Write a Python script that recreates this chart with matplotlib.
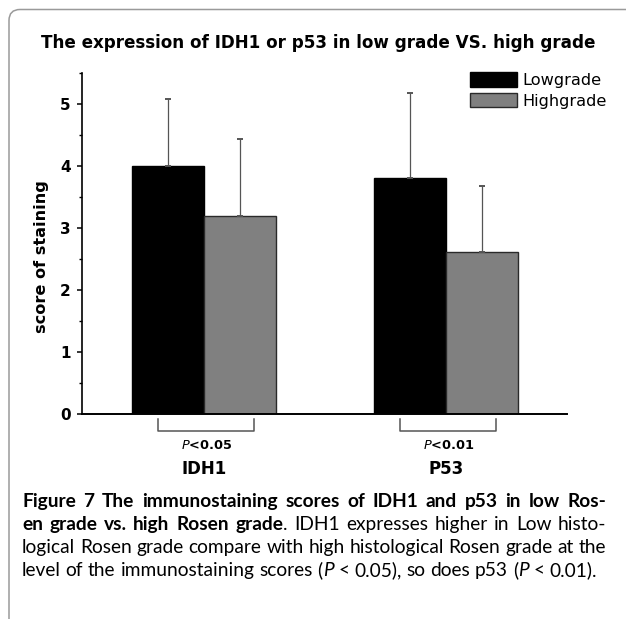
import matplotlib
matplotlib.use('Agg')
import matplotlib.pyplot as plt
from matplotlib.patches import FancyBboxPatch
from matplotlib.ticker import MultipleLocator
import numpy as np

plt.rcParams['mathtext.fontset'] = 'custom'
plt.rcParams['mathtext.it'] = 'DejaVu Sans:italic'
plt.rcParams['mathtext.rm'] = 'DejaVu Sans'

# ---------------- data ----------------
categories = ['IDH1', 'P53']
series_names = ['Lowgrade', 'Highgrade']
low_means = [4.00, 3.81]
high_means = [3.20, 2.61]
low_err = [1.08, 1.36]
high_err = [1.24, 1.07]
p_values = ['<0.05', '<0.01']
yticks = [0, 1, 2, 3, 4, 5]
title = 'The expression of IDH1 or p53 in low grade VS. high grade'
ylabel = 'score of staining'

W, H = 626, 619
fig = plt.figure(figsize=(W / 100, H / 100), dpi=100)

# background pixel-space axes for frame / caption
bg = fig.add_axes([0, 0, 1, 1], zorder=-5)
bg.set_xlim(0, W)
bg.set_ylim(H, 0)
bg.axis('off')
bg.add_patch(FancyBboxPatch((9, 9.5), 700, 700,
                            boxstyle='round,pad=0,rounding_size=11',
                            facecolor='white', edgecolor='#9a9a9a', linewidth=1.1))

# ---------------- main axes ----------------
ax_left, ax_right, ax_bot, ax_top = 82, 567, 414, 72.7
ax = fig.add_axes([ax_left / W, 1 - ax_bot / H, (ax_right - ax_left) / W, (ax_bot - ax_top) / H])
ax.patch.set_alpha(0)

x = np.arange(len(categories))
bw = 0.2975
ekw = dict(ecolor='#555555', elinewidth=0.9, capsize=1.9, capthick=1.4)
ax.bar(x - bw / 2, low_means, bw, color='black', edgecolor='black', linewidth=1,
       label=series_names[0], yerr=[np.zeros(len(x)), low_err], error_kw=ekw)
ax.bar(x + bw / 2, high_means, bw, color='#808080', edgecolor='#2a2a2a', linewidth=1,
       label=series_names[1], yerr=[np.zeros(len(x)), high_err], error_kw=ekw)

ax.set_xlim(-0.504, 1.5)
ax.set_ylim(0, 5.505)
for s in ['top', 'right']:
    ax.spines[s].set_visible(False)
ax.spines['left'].set_linewidth(1.2)
ax.spines['bottom'].set_linewidth(1.4)

ax.set_yticks(yticks)
ax.yaxis.set_minor_locator(MultipleLocator(0.5))
ax.tick_params(axis='y', which='major', direction='out', length=3.8, width=1.1, pad=4.5,
               labelsize=11)
ax.tick_params(axis='y', which='minor', direction='out', length=2.2, width=1.0)
for lab in ax.get_yticklabels():
    lab.set_fontweight('bold')
    lab.set_family('DejaVu Sans')

ax.set_xticks(x)
ax.set_xticklabels(categories, fontsize=12, fontweight='bold', family='DejaVu Sans')
ax.tick_params(axis='x', length=0, pad=33)

# significance brackets and p-values
tr = ax.get_xaxis_transform()
axh = ax_bot - ax_top
for xi, p in zip(x, p_values):
    xl, xr = xi - 0.19, xi + 0.205
    y1, y2 = -5 / axh, -17 / axh
    ax.plot([xl, xl, xr, xr], [y1, y2, y2, y1], color='#555555', lw=1.1,
            transform=tr, clip_on=False)
    ax.annotate(r'$\mathit{P}$' + p, xy=(xi + 0.012, 0), xycoords=tr,
                xytext=(0, -22.5), textcoords='offset points', ha='center', va='center',
                fontsize=9.3, fontweight='bold', family='DejaVu Sans')

leg = ax.legend(loc='upper left', bbox_to_anchor=(470 / W, 1 - 72 / H),
                bbox_transform=fig.transFigure, frameon=False, borderpad=0,
                borderaxespad=0, handlelength=47 / 16.1, handleheight=16.6 / 16.1,
                handletextpad=5.5 / 16.1, labelspacing=0.3,
                prop={'family': 'DejaVu Sans', 'size': 11.6})

fig.text(42 / W, 1 - 257 / H, ylabel, rotation=90, ha='center', va='center',
         fontsize=11.6, fontweight='bold', family='DejaVu Sans')

# title fitted to its measured width
renderer = fig.canvas.get_renderer()
t = fig.text(318.5 / W, 1 - 43 / H, title, ha='center', va='center',
             fontsize=10, fontweight='bold', family='DejaVu Sans')
w10 = t.get_window_extent(renderer).width
t.set_fontsize(10 * 557 / w10)

# ---------------- caption ----------------
cap_lines = [
    [('Figure 7 The immunostaining scores of IDH1 and p53 in low Ros-', 'bold', 'normal')],
    [('en grade vs. high Rosen grade', 'bold', 'normal'),
     ('. IDH1 expresses higher in Low histo-', 'normal', 'normal')],
    [('logical Rosen grade compare with high histological Rosen grade at the', 'normal', 'normal')],
    [('level of the immunostaining scores (', 'normal', 'normal'), ('P', 'normal', 'italic'),
     (' < 0.05), so does p53 (', 'normal', 'normal'), ('P', 'normal', 'italic'),
     (' < 0.01).', 'normal', 'normal')],
]
cap_left, cap_right = 22, 606
baselines = [507, 530, 553, 576]
cap_font = 'Lato'


def units_of(line):
    """split a line into words; each word is a list of (text, weight, style)."""
    words = [[]]
    for txt, wt, st in line:
        parts = txt.split(' ')
        for i, part in enumerate(parts):
            if i > 0:
                words.append([])
            if part:
                words[-1].append((part, wt, st))
    return [w for w in words if w]


def measure(txt, wt, st, fs):
    tt = bg.text(0, 0, txt, fontsize=fs, fontweight=wt, fontstyle=st, family=cap_font)
    w = tt.get_window_extent(renderer).width
    tt.remove()
    return w


base = 10.0
ratios = []
for li, line in enumerate(cap_lines[:-1]):
    words = units_of(line)
    wsum = sum(measure(p, wt, st, base) for wd in words for (p, wt, st) in wd)
    space = measure('a a', 'normal', 'normal', base) - measure('aa', 'normal', 'normal', base)
    nat = wsum + space * (len(words) - 1)
    ratios.append((cap_right - cap_left) / nat)
cap_fs = min(14.0, base * min(ratios))
space_w = measure('a a', 'normal', 'normal', cap_fs) - measure('aa', 'normal', 'normal', cap_fs)

for li, line in enumerate(cap_lines):
    words = units_of(line)
    widths = [[measure(p, wt, st, cap_fs) for (p, wt, st) in wd] for wd in words]
    total = sum(sum(ws) for ws in widths)
    if li < len(cap_lines) - 1:
        gap = (cap_right - cap_left - total) / (len(words) - 1)
    else:
        gap = space_w
    xpos = cap_left
    for wd, ws in zip(words, widths):
        for (p, wt, st), wpx in zip(wd, ws):
            bg.text(xpos, baselines[li], p, fontsize=cap_fs, fontweight=wt, fontstyle=st,
                    family=cap_font, va='baseline', ha='left', color='black')
            xpos += wpx
        xpos += gap

fig.savefig('out.png', dpi=100)
